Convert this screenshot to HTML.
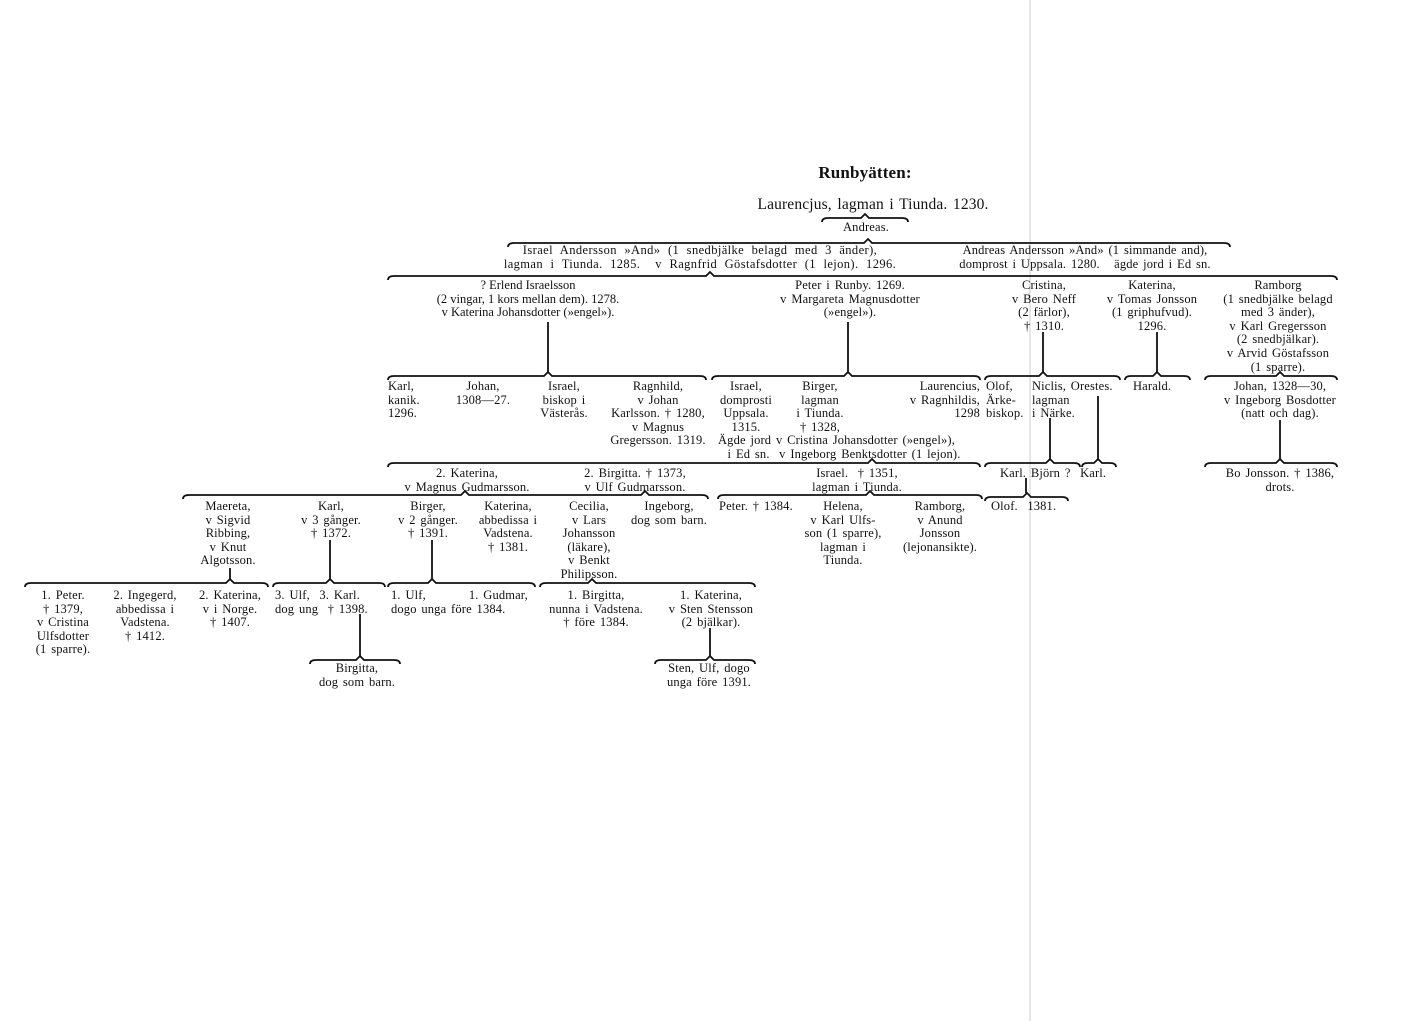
<!DOCTYPE html>
<html><head><meta charset="utf-8"><style>
html,body{margin:0;padding:0;background:#fff;}
body{width:1403px;height:1021px;position:relative;overflow:hidden;font-family:"Liberation Serif",serif;color:#111;font-size:12.5px;line-height:13.6px;word-spacing:1.5px;letter-spacing:0.15px;}
.c{position:absolute;transform:translateX(-50%);text-align:center;white-space:nowrap;}
.l{position:absolute;text-align:left;white-space:nowrap;}
.r{position:absolute;text-align:right;white-space:nowrap;transform:translateX(-100%);}
svg{position:absolute;left:0;top:0;}
</style></head><body>
<svg width="1403" height="1021">
<line x1="1030" y1="0" x2="1030" y2="1021" stroke="#ccc" stroke-width="1"/>
<g fill="none" stroke="#111" stroke-width="1.8">
<path d="M822,222 Q822,218 828,218 L861,218 L865,214 L869,218 L902,218 Q908,218 908,222"/>
<path d="M508,247 Q508,243 514,243 L864,243 L868,239 L872,243 L1224,243 Q1230,243 1230,247"/>
<path d="M388,280 Q388,276 394,276 L706,276 L710,272 L714,276 L1331,276 Q1337,276 1337,280"/>
<path d="M388,380 Q388,376 394,376 L544,376 L548,372 L552,376 L700,376 Q706,376 706,380"/>
<path d="M712,380 Q712,376 718,376 L844,376 L848,372 L852,376 L974,376 Q980,376 980,380"/>
<path d="M985,380 Q985,376 991,376 L1039,376 L1043,372 L1047,376 L1114,376 Q1120,376 1120,380"/>
<path d="M1125,380 Q1125,376 1131,376 L1153,376 L1157,372 L1161,376 L1184,376 Q1190,376 1190,380"/>
<path d="M1205,380 Q1205,376 1211,376 L1276,376 L1280,372 L1284,376 L1331,376 Q1337,376 1337,380"/>
<path d="M388,467 Q388,463 394,463 L868,463 L872,459 L876,463 L974,463 Q980,463 980,467"/>
<path d="M985,467 Q985,463 991,463 L1046,463 L1050,459 L1054,463 L1074,463 Q1080,463 1080,467"/>
<path d="M1082,467 Q1082,463 1088,463 L1094,463 L1098,459 L1102,463 L1110,463 Q1116,463 1116,467"/>
<path d="M1205,467 Q1205,463 1211,463 L1276,463 L1280,459 L1284,463 L1331,463 Q1337,463 1337,467"/>
<path d="M183,499 Q183,495 189,495 L461,495 L465,491 L469,495 L641,495 L645,491 L649,495 L702,495 Q708,495 708,499"/>
<path d="M718,499 Q718,495 724,495 L866,495 L870,491 L874,495 L976,495 Q982,495 982,499"/>
<path d="M985,501 Q985,497 991,497 L1023,497 L1027,493 L1031,497 L1062,497 Q1068,497 1068,501"/>
<path d="M25,587 Q25,583 31,583 L226,583 L230,579 L234,583 L262,583 Q268,583 268,587"/>
<path d="M273,587 Q273,583 279,583 L326,583 L330,579 L334,583 L379,583 Q385,583 385,587"/>
<path d="M388,587 Q388,583 394,583 L428,583 L432,579 L436,583 L529,583 Q535,583 535,587"/>
<path d="M540,587 Q540,583 546,583 L588,583 L592,579 L596,583 L749,583 Q755,583 755,587"/>
<path d="M310,664 Q310,660 316,660 L356,660 L360,656 L364,660 L394,660 Q400,660 400,664"/>
<path d="M655,664 Q655,660 661,660 L706,660 L710,656 L714,660 L749,660 Q755,660 755,664"/>
</g>
<g stroke="#111" stroke-width="1.8">
<line x1="548" y1="322" x2="548" y2="372"/>
<line x1="848" y1="322" x2="848" y2="372"/>
<line x1="1043" y1="332" x2="1043" y2="372"/>
<line x1="1157" y1="332" x2="1157" y2="372"/>
<line x1="1280" y1="420" x2="1280" y2="459"/>
<line x1="1050" y1="418" x2="1050" y2="459"/>
<line x1="1098" y1="396" x2="1098" y2="459"/>
<line x1="1026" y1="478" x2="1026" y2="493"/>
<line x1="230" y1="568" x2="230" y2="579"/>
<line x1="330" y1="540" x2="330" y2="579"/>
<line x1="432" y1="540" x2="432" y2="579"/>
<line x1="360" y1="614" x2="360" y2="656"/>
<line x1="710" y1="628" x2="710" y2="656"/>
</g>
</svg>

<div class="c" style="left:865px;top:164px;font-size:17px;font-weight:bold;line-height:18px;">Runbyätten:</div>
<div class="c" style="left:873px;top:196px;font-size:15.5px;line-height:17px;">Laurencjus, lagman i Tiunda. 1230.</div>
<div class="c" style="left:866px;top:221px;">Andreas.</div>

<div class="c" style="left:700px;top:244px;word-spacing:4px;letter-spacing:0.4px;">Israel Andersson »And» (1 snedbjälke belagd med 3 änder),<br>lagman i Tiunda. 1285. &nbsp;v Ragnfrid Göstafsdotter (1 lejon). 1296.</div>
<div class="c" style="left:1085px;top:244px;">Andreas Andersson »And» (1 simmande and),<br>domprost i Uppsala. 1280. &nbsp;&nbsp;ägde jord i Ed sn.</div>

<div class="c" style="left:528px;top:279px;word-spacing:0;letter-spacing:0;">? Erlend Israelsson<br>(2 vingar, 1 kors mellan dem). 1278.<br>v Katerina Johansdotter (»engel»).</div>
<div class="c" style="left:850px;top:279px;">Peter i Runby. 1269.<br>v Margareta Magnusdotter<br>(»engel»).</div>
<div class="c" style="left:1044px;top:279px;">Cristina,<br>v Bero Neff<br>(2 färlor),<br>† 1310.</div>
<div class="c" style="left:1152px;top:279px;">Katerina,<br>v Tomas Jonsson<br>(1 griphufvud).<br>1296.</div>
<div class="c" style="left:1278px;top:279px;">Ramborg<br>(1 snedbjälke belagd<br>med 3 änder),<br>v Karl Gregersson<br>(2 snedbjälkar).<br>v Arvid Göstafsson<br>(1 sparre).</div>

<div class="l" style="left:388px;top:380px;">Karl,<br>kanik.<br>1296.</div>
<div class="c" style="left:483px;top:380px;">Johan,<br>1308—27.</div>
<div class="c" style="left:564px;top:380px;">Israel,<br>biskop i<br>Västerås.</div>
<div class="c" style="left:658px;top:380px;">Ragnhild,<br>v Johan<br>Karlsson. † 1280,<br>v Magnus<br>Gregersson. 1319.</div>
<div class="c" style="left:746px;top:380px;">Israel,<br>domprosti<br>Uppsala.<br>1315.</div>
<div class="c" style="left:820px;top:380px;">Birger,<br>lagman<br>i Tiunda.<br>† 1328,</div>
<div class="l" style="left:718px;top:434px;">Ägde jord v Cristina Johansdotter (»engel»),<br>&nbsp;&nbsp;i Ed sn. &nbsp;v Ingeborg Benktsdotter (1 lejon).</div>
<div class="r" style="left:980px;top:380px;">Laurencius,<br>v Ragnhildis,<br>1298</div>
<div class="l" style="left:986px;top:380px;">Olof,<br>Ärke-<br>biskop.</div>
<div class="l" style="left:1032px;top:380px;">Niclis, Orestes.<br>lagman<br>i Närke.</div>
<div class="l" style="left:1133px;top:380px;">Harald.</div>
<div class="c" style="left:1280px;top:380px;">Johan, 1328—30,<br>v Ingeborg Bosdotter<br>(natt och dag).</div>

<div class="c" style="left:467px;top:467px;">2. Katerina,<br>v Magnus Gudmarsson.</div>
<div class="c" style="left:635px;top:467px;">2. Birgitta. † 1373,<br>v Ulf Gudmarsson.</div>
<div class="c" style="left:857px;top:467px;">Israel. &nbsp;† 1351,<br>lagman i Tiunda.</div>
<div class="l" style="left:1000px;top:467px;">Karl. Björn ? &nbsp;Karl.</div>
<div class="c" style="left:1280px;top:467px;">Bo Jonsson. † 1386,<br>drots.</div>

<div class="c" style="left:228px;top:500px;">Maereta,<br>v Sigvid<br>Ribbing,<br>v Knut<br>Algotsson.</div>
<div class="c" style="left:331px;top:500px;">Karl,<br>v 3 gånger.<br>† 1372.</div>
<div class="c" style="left:428px;top:500px;">Birger,<br>v 2 gånger.<br>† 1391.</div>
<div class="c" style="left:508px;top:500px;">Katerina,<br>abbedissa i<br>Vadstena.<br>† 1381.</div>
<div class="c" style="left:589px;top:500px;">Cecilia,<br>v Lars<br>Johansson<br>(läkare),<br>v Benkt<br>Philipsson.</div>
<div class="c" style="left:669px;top:500px;">Ingeborg,<br>dog som barn.</div>
<div class="l" style="left:719px;top:500px;">Peter. † 1384.</div>
<div class="c" style="left:843px;top:500px;">Helena,<br>v Karl Ulfs-<br>son (1 sparre),<br>lagman i<br>Tiunda.</div>
<div class="c" style="left:940px;top:500px;">Ramborg,<br>v Anund<br>Jonsson<br>(lejonansikte).</div>
<div class="l" style="left:991px;top:500px;">Olof. &nbsp;1381.</div>

<div class="c" style="left:63px;top:589px;">1. Peter.<br>† 1379,<br>v Cristina<br>Ulfsdotter<br>(1 sparre).</div>
<div class="c" style="left:145px;top:589px;">2. Ingegerd,<br>abbedissa i<br>Vadstena.<br>† 1412.</div>
<div class="c" style="left:230px;top:589px;">2. Katerina,<br>v i Norge.<br>† 1407.</div>
<div class="l" style="left:275px;top:589px;">3. Ulf, &nbsp;3. Karl.<br>dog ung &nbsp;† 1398.</div>
<div class="l" style="left:391px;top:589px;">1. Ulf, &nbsp;&nbsp;&nbsp;&nbsp;&nbsp;&nbsp;&nbsp;&nbsp;1. Gudmar,<br>dogo unga före 1384.</div>
<div class="c" style="left:596px;top:589px;">1. Birgitta,<br>nunna i Vadstena.<br>† före 1384.</div>
<div class="c" style="left:711px;top:589px;">1. Katerina,<br>v Sten Stensson<br>(2 bjälkar).</div>
<div class="c" style="left:357px;top:662px;">Birgitta,<br>dog som barn.</div>
<div class="c" style="left:709px;top:662px;">Sten, Ulf, dogo<br>unga före 1391.</div>
</body></html>
